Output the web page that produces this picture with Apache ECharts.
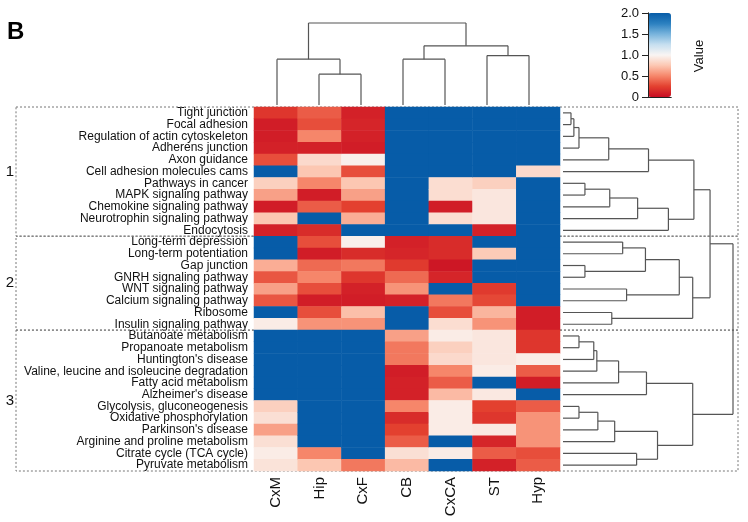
<!DOCTYPE html>
<html>
<head>
<meta charset="utf-8">
<script src="https://cdn.jsdelivr.net/npm/echarts@6/dist/echarts.min.js"></script>
<style>
  html, body { margin: 0; padding: 0; background: #fff; }
  #chart { width: 748px; height: 522px; }
</style>
</head>
<body>
<div id="chart"></div>
<script>
// columns (brain regions) and rows (pathways), in dendrogram order
const regions = ['CxM', 'Hip', 'CxF', 'CB', 'CxCA', 'ST', 'Hyp']
const pathways = [
  'Tight junction', 'Focal adhesion', 'Regulation of actin cytoskeleton', 'Adherens junction',
  'Axon guidance', 'Cell adhesion molecules cams', 'Pathways in cancer', 'MAPK signaling pathway',
  'Chemokine signaling pathway', 'Neurotrophin signaling pathway', 'Endocytosis',
  'Long-term depression', 'Long-term potentiation', 'Gap junction', 'GNRH signaling pathway',
  'WNT signaling pathway', 'Calcium signaling pathway', 'Ribosome', 'Insulin signaling pathway',
  'Butanoate metabolism', 'Propanoate metabolism', "Huntington's disease",
  'Valine, leucine and isoleucine degradation', 'Fatty acid metabolism', "Alzheimer's disease",
  'Glycolysis, gluconeogenesis', 'Oxidative phosphorylation', "Parkinson's disease",
  'Arginine and proline metabolism', 'Citrate cycle (TCA cycle)', 'Pyruvate metabolism'
]
// how many rows in each cluster box
const clusterSizes = [11, 8, 12]
const clusterNames = ['1', '2', '3']

// values per region (one per pathway, top to bottom)
const cxm = [0.2, 0.08, 0.08, 0.1, 0.3, 2, 0.8, 0.6, 0.08, 0.75, 0.1,
  2, 2, 0.65, 0.33, 0.6, 0.33, 2, 0.95,
  2, 2, 2, 2, 2, 2, 0.8, 0.88, 0.6, 0.88, 0.95, 0.9]
const hip = [0.35, 0.3, 0.5, 0.1, 0.85, 0.75, 0.5, 0.08, 0.35, 2, 0.15,
  0.3, 0.08, 0.4, 0.5, 0.3, 0.08, 0.3, 0.55,
  2, 2, 2, 2, 2, 2, 2, 2, 2, 2, 0.5, 0.75]
const cxf = [0.1, 0.12, 0.1, 0.08, 0.97, 0.3, 0.75, 0.6, 0.25, 0.65, 2,
  0.97, 0.15, 0.45, 0.2, 0.1, 0.08, 0.72, 0.55,
  2, 2, 2, 2, 2, 2, 2, 2, 2, 2, 2, 0.45]
const cb = [2, 2, 2, 2, 2, 2, 2, 2, 2, 2, 2,
  0.1, 0.12, 0.22, 0.4, 0.55, 0.1, 2, 2,
  0.6, 0.45, 0.45, 0.08, 0.1, 0.1, 0.5, 0.15, 0.25, 0.35, 0.88, 0.7]
const cxca = [2, 2, 2, 2, 2, 2, 0.87, 0.87, 0.08, 0.87, 2,
  0.15, 0.15, 0.05, 0.12, 2, 0.45, 0.3, 0.87,
  0.95, 0.8, 0.85, 0.5, 0.35, 0.7, 0.95, 0.95, 0.95, 2, 0.95, 2]
const st = [2, 2, 2, 2, 2, 2, 0.8, 0.92, 0.92, 0.92, 0.1,
  2, 0.77, 2, 2, 0.22, 0.28, 0.68, 0.55,
  0.92, 0.92, 0.92, 0.95, 2, 0.93, 0.25, 0.2, 0.93, 0.12, 0.35, 0.1]
const hyp = [2, 2, 2, 2, 2, 0.85, 2, 2, 2, 2, 2,
  2, 2, 2, 2, 2, 2, 0.08, 0.08,
  0.2, 0.2, 0.95, 0.35, 0.08, 2, 0.35, 0.55, 0.55, 0.55, 0.3, 0.35]
const columns = [cxm, hip, cxf, cb, cxca, st, hyp]

// linkage [a, b, height]; ids >= leaf count refer to earlier merges
const rowLinkage = [
  [0, 1, 0.47], [31, 2, 0.64], [32, 3, 0.94], [33, 4, 2.69], [34, 5, 5.03],
  [6, 7, 1.29], [36, 8, 2.75], [37, 9, 4.39], [38, 10, 6.2], [35, 39, 7.7],
  [11, 12, 3.51], [13, 14, 1.29], [41, 42, 4.85], [15, 16, 3.74], [43, 44, 6.84],
  [17, 18, 2.87], [45, 46, 7.63], [40, 47, 8.65],
  [19, 20, 0.94], [49, 21, 1.81], [50, 22, 1.99], [51, 23, 3.27], [52, 24, 4.91],
  [25, 26, 0.94], [54, 27, 2.05], [55, 28, 3.04], [29, 30, 4.33], [56, 57, 5.56],
  [53, 58, 7.63], [48, 59, 10]
]
const colLinkage = [
  [1, 2, 3.76], [0, 7, 5.59], [3, 4, 5.59], [5, 6, 6.03], [9, 10, 7.22], [8, 11, 10]
]

const font = 'Liberation Sans, Arial, Helvetica, sans-serif'

// heatmap cells
let cells = []
columns.forEach((col, c) => {
  col.forEach((v, r) => cells.push([c, r, v]))
})

// turn a linkage into line segments [leafPos1, h1, leafPos2, h2]
function dendroSegments(links, n) {
  let pos = [], ht = [], segs = []
  for (let i = 0; i < n; i++) { pos[i] = i; ht[i] = 0 }
  links.forEach(([a, b, h], k) => {
    pos[n + k] = (pos[a] + pos[b]) / 2
    ht[n + k] = h
    segs.push([pos[a], ht[a], pos[a], h])
    segs.push([pos[b], ht[b], pos[b], h])
    segs.push([pos[a], h, pos[b], h])
  })
  return segs
}
const rowSegs = dendroSegments(rowLinkage, pathways.length).map(s => [s[1], s[0], s[3], s[2]])
const colSegs = dendroSegments(colLinkage, regions.length)

function segItem(params, api) {
  const p1 = api.coord([api.value(0), api.value(1)])
  const p2 = api.coord([api.value(2), api.value(3)])
  return {
    type: 'line',
    shape: { x1: p1[0], y1: p1[1], x2: p2[0], y2: p2[1] },
    style: { stroke: '#555', lineWidth: 1.2 }
  }
}

const hidden = { show: false }

let mycharts = echarts.init(document.getElementById('chart'))
mycharts.setOption({
  animation: false,
  grid: [
    { left: 254, top: 107, width: 306, height: 364 },
    { left: 563, top: 107, width: 170, height: 364 },
    { left: 256, top: 23, width: 294, height: 82 },
    { left: 648, top: 13, width: 23, height: 84 }
  ],
  xAxis: [
    {
      type: 'category', gridIndex: 0, data: regions, position: 'bottom',
      axisLine: hidden, axisTick: hidden, splitLine: hidden,
      axisLabel: { rotate: 90, fontSize: 15, color: '#111', fontFamily: font, margin: 6 }
    },
    { type: 'value', gridIndex: 1, min: 0, max: 10, show: false },
    { type: 'value', gridIndex: 2, min: -0.5, max: regions.length - 0.5, show: false },
    // colour bar frame (bottom / top)
    {
      type: 'value', gridIndex: 3, min: 0, max: 1, position: 'bottom', z: 10,
      axisLine: { show: true, lineStyle: { color: '#222', width: 1 } },
      axisTick: hidden, axisLabel: hidden, splitLine: hidden
    },
    {
      type: 'value', gridIndex: 3, min: 0, max: 1, position: 'top', z: 10,
      axisLine: { show: true, lineStyle: { color: '#222', width: 1 } },
      axisTick: hidden, axisLabel: hidden, splitLine: hidden
    }
  ],
  yAxis: [
    {
      type: 'category', gridIndex: 0, data: pathways, inverse: true,
      axisLine: hidden, axisTick: hidden, splitLine: hidden,
      axisLabel: { fontSize: 12, color: '#111', fontFamily: font, margin: 6, interval: 0 }
    },
    { type: 'value', gridIndex: 1, min: -0.5, max: pathways.length - 0.5, inverse: true, show: false },
    { type: 'value', gridIndex: 2, min: 0, max: 10, show: false },
    // colour bar scale
    {
      type: 'value', gridIndex: 3, min: 0, max: 2, interval: 0.5, position: 'left', z: 10,
      axisLine: { show: true, lineStyle: { color: '#222', width: 1 } },
      axisTick: { show: true, length: 6, lineStyle: { color: '#222' } },
      splitLine: hidden,
      axisLabel: {
        fontSize: 13, color: '#111', fontFamily: font, margin: 9,
        formatter: v => (v === 0 ? '0' : v.toFixed(1))
      }
    },
    {
      type: 'value', gridIndex: 3, min: 0, max: 2, position: 'right', z: 10,
      axisLine: { show: true, lineStyle: { color: '#222', width: 1 } },
      axisTick: hidden, axisLabel: hidden, splitLine: hidden
    }
  ],
  visualMap: {
    type: 'continuous',
    min: 0,
    max: 2,
    seriesIndex: 0,
    dimension: 2,
    orient: 'vertical',
    left: 648,
    top: 13,
    itemWidth: 23,
    itemHeight: 84,
    padding: 0,
    calculable: false,
    text: null,
    inRange: {
      color: ['#c80d23', '#e3402f', '#f6866a', '#fcc7b2', '#f9f5f3',
        '#c6dff0', '#78b3dc', '#2b80c0', '#075ca8']
    }
  },
  series: [
    {
      type: 'heatmap',
      xAxisIndex: 0,
      yAxisIndex: 0,
      data: cells,
      itemStyle: { borderWidth: 0 }
    },
    {
      type: 'custom',
      xAxisIndex: 1,
      yAxisIndex: 1,
      data: rowSegs,
      encode: { x: [0, 2], y: [1, 3] },
      renderItem: segItem,
      silent: true
    },
    {
      type: 'custom',
      xAxisIndex: 2,
      yAxisIndex: 2,
      data: colSegs,
      encode: { x: [0, 2], y: [1, 3] },
      renderItem: segItem,
      silent: true
    },
    { type: 'line', xAxisIndex: 3, yAxisIndex: 3, data: [] }
  ]
})

// dashed cluster boxes, placed from the row axis
let graphics = [
  {
    type: 'text', left: 7, top: 20,
    style: { text: 'B', fontSize: 24, fontWeight: 'bold', fill: '#000', fontFamily: font }
  },
  {
    type: 'text', x: 699, y: 56, rotation: Math.PI / 2,
    style: { text: 'Value', fontSize: 13, fill: '#111', fontFamily: font, align: 'center', verticalAlign: 'middle' }
  }
]
let start = 0
clusterSizes.forEach((size, i) => {
  const y0 = mycharts.convertToPixel({ yAxisIndex: 1 }, start - 0.5)
  const y1 = mycharts.convertToPixel({ yAxisIndex: 1 }, start + size - 0.5)
  graphics.push({
    type: 'rect', z: 1,
    shape: { x: 16, y: y0, width: 722, height: y1 - y0 },
    style: { fill: 'none', stroke: '#777', lineWidth: 1, lineDash: [2, 2] }
  })
  graphics.push({
    type: 'text', x: 10, y: (y0 + y1) / 2,
    style: { text: clusterNames[i], fontSize: 15, fill: '#111', fontFamily: font, align: 'center', verticalAlign: 'middle' }
  })
  start += size
})
mycharts.setOption({ graphic: graphics })
</script>
</body>
</html>
